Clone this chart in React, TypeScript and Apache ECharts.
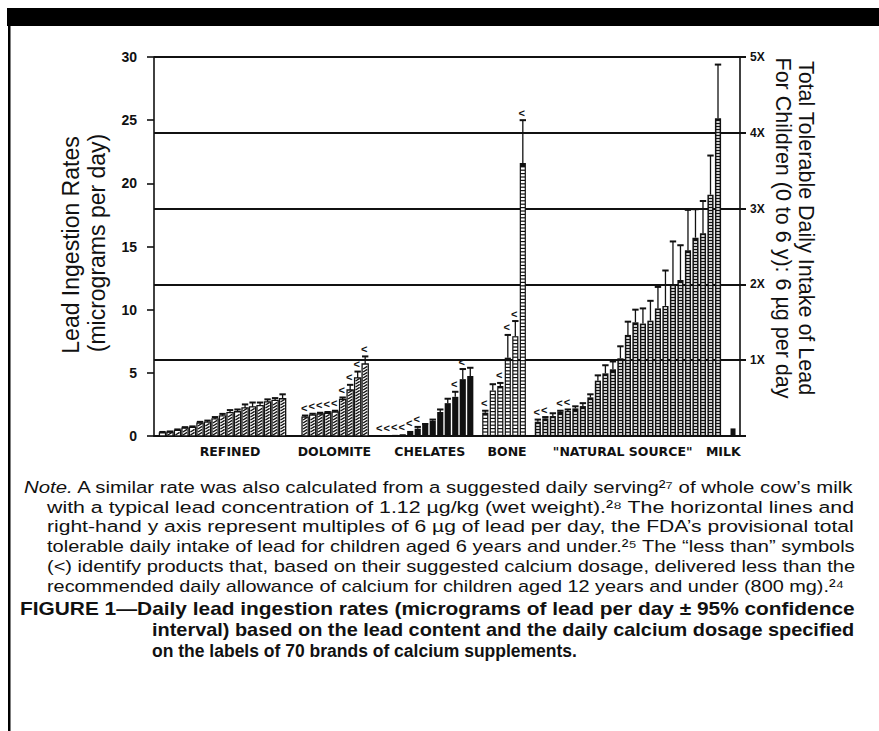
import React, { useEffect, useRef } from 'react';
import * as echarts from 'echarts';

// ---- data ----
const groupNames = ['REFINED', 'DOLOMITE', 'CHELATES', 'BONE', '"NATURAL SOURCE"', 'MILK'];
const groupStart = [0, 19, 29, 43, 50, 76];
const groupLabelPos = [9.0, 22.9, 35.6, 45.9, 61.3, 74.7];

const refinedValues = [0.25, 0.3, 0.45, 0.62, 0.68, 1.02, 1.1, 1.35, 1.6, 1.85, 1.92, 2.22, 2.3, 2.4, 2.7, 2.82, 2.95];
const refinedUpper = [0.32, 0.36, 0.52, 0.7, 0.76, 1.12, 1.22, 1.5, 1.75, 2.05, 2.1, 2.5, 2.65, 2.65, 2.9, 3.0, 3.3];
const refinedLess = [0, 0, 0, 0, 0, 0, 0, 0, 0, 0, 0, 0, 0, 0, 0, 0, 0];

const dolomiteValues = [1.5, 1.66, 1.74, 1.8, 1.9, 2.9, 3.64, 4.6, 5.7];
const dolomiteUpper = [1.62, 1.76, 1.84, 1.9, 2.0, 3.05, 4.05, 5.1, 6.3];
const dolomiteLess = [1, 1, 1, 1, 1, 1, 1, 1, 1];

const chelatesValues = [0.04, 0.06, 0.09, 0.14, 0.4, 0.58, 0.87, 1.2, 1.9, 2.6, 3.1, 4.5, 4.75];
const chelatesUpper = [0.04, 0.06, 0.09, 0.14, 0.4, 0.72, 0.95, 1.3, 2.1, 2.95, 3.5, 5.3, 5.4];
const chelatesLess = [1, 1, 1, 1, 1, 1, 0, 0, 0, 0, 1, 1, 0];

const boneValues = [1.85, 3.6, 3.96, 6.2, 7.9, 21.6];
const boneUpper = [2.0, 4.1, 4.2, 8.0, 9.1, 25.0];
const boneLess = [1, 0, 1, 1, 1, 1];

const naturalValues = [1.13, 1.4, 1.58, 1.93, 1.98, 2.19, 2.37, 3.06, 4.38, 4.96, 5.28, 6.15, 8.0, 9.0, 8.9, 9.13, 10.1, 10.3, 11.96, 12.35, 14.7, 15.7, 16.05, 19.1, 25.15];
const naturalUpper = [1.3, 1.5, 1.8, 2.0, 2.1, 2.35, 2.6, 3.3, 4.8, 5.6, 5.9, 7.1, 9.05, 10.0, 10.1, 10.7, 11.8, 13.1, 15.4, 15.1, 17.9, 17.95, 18.6, 22.2, 29.4];
const naturalLess = [1, 1, 0, 1, 1, 0, 0, 0, 0, 0, 0, 0, 0, 0, 0, 0, 0, 0, 0, 0, 0, 0, 0, 0, 0];

const milkValues = [0.6];
const milkUpper = [0.6];
const milkLess = [0];

const leftAxisTicks = [0, 5, 10, 15, 20, 25, 30];
const rightAxisLabels = ['1X', '2X', '3X', '4X', '5X'];

const noteLead = 'Note.';
const noteLines = [
  ' A similar rate was also calculated from a suggested daily serving²⁷ of whole cow’s milk',
  'with a typical lead concentration of 1.12 µg/kg (wet weight).²⁸ The horizontal lines and',
  'right-hand y axis represent multiples of 6 µg of lead per day, the FDA’s provisional total',
  'tolerable daily intake of lead for children aged 6 years and under.²⁵ The “less than” symbols',
  '(<) identify products that, based on their suggested calcium dosage, delivered less than the',
  'recommended daily allowance of calcium for children aged 12 years and under (800 mg).²⁴',
];
const captionLines = [
  'FIGURE 1—Daily lead ingestion rates (micrograms of lead per day ± 95% confidence',
  'interval) based on the lead content and the daily calcium dosage specified',
  'on the labels of 70 brands of calcium supplements.',
];

// layout: line start x and target widths (justified block); 0 = natural width
const noteX = [24, 47, 47, 47, 47, 47];
const noteWidth = [831, 808, 808, 808, 808, 798];
const captionX = [20, 152, 152];
const captionWidth = [835, 703, 0];

const groups = [
  [refinedValues, refinedUpper, refinedLess],
  [dolomiteValues, dolomiteUpper, dolomiteLess],
  [chelatesValues, chelatesUpper, chelatesLess],
  [boneValues, boneUpper, boneLess],
  [naturalValues, naturalUpper, naturalLess],
  [milkValues, milkUpper, milkLess],
];

const barData: number[][] = [];
groups.forEach((grp, g) => {
  grp[0].forEach((v, i) => {
    barData.push([groupStart[g] + i, v, grp[1][i], grp[2][i], g]);
  });
});

const INK = '#111';

function renderBar(_params: any, api: any) {
  const pos = api.value(0);
  const v = api.value(1);
  const up = api.value(2);
  const less = api.value(3);
  const g = api.value(4);
  const base = api.coord([pos, 0]);
  const top = api.coord([pos, v]);
  const cap = api.coord([pos, up]);
  const w = g === 5 ? 5 : api.size([0.82, 0])[0];
  const left = base[0] - w / 2;
  const h = Math.max(base[1] - top[1], 0.8);
  const y0 = base[1] - h;
  const ch: any[] = [];
  if (g <= 1) {
    ch.push({ type: 'rect', shape: { x: left, y: y0, width: w, height: h }, style: { fill: '#fff', stroke: INK, lineWidth: 1.3 } });
    for (let yy = base[1] - 1.0; yy - 2.6 > y0; yy -= 3.0) {
      ch.push({
        type: 'line',
        shape: { x1: left + 1, y1: yy, x2: left + w - 1, y2: yy - 2.6 },
        style: { stroke: INK, lineWidth: 1.4 },
      });
    }
  } else {
    ch.push({ type: 'rect', shape: { x: left, y: y0, width: w, height: h }, style: { fill: INK } });
    if (g === 3 || g === 4) {
      const iw = g === 3 ? w - 2.4 : w - 3;
      const ih = g === 3 ? 2.2 : 1.6;
      const step = g === 3 ? 3.4 : 3.0;
      for (let yy = base[1] - 1.2 - ih; yy > y0 + 1; yy -= step) {
        ch.push({ type: 'rect', shape: { x: base[0] - iw / 2, y: yy, width: iw, height: ih }, style: { fill: '#fff' } });
      }
    }
  }
  if (up > v + 1e-6) {
    ch.push({ type: 'line', shape: { x1: base[0], y1: top[1], x2: base[0], y2: cap[1] }, style: { stroke: INK, lineWidth: 1.3 } });
    ch.push({ type: 'line', shape: { x1: base[0] - 3.2, y1: cap[1], x2: base[0] + 3.2, y2: cap[1] }, style: { stroke: INK, lineWidth: 2 } });
  }
  if (less) {
    ch.push({
      type: 'text',
      x: base[0] - 1,
      y: cap[1] - 2,
      style: { text: '<', font: 'bold 11px "Liberation Sans", Arial, sans-serif', textAlign: 'center', textVerticalAlign: 'bottom', fill: INK },
    });
  }
  return { type: 'group', children: ch };
}

function renderGroupLabel(_params: any, api: any) {
  const c = api.coord([api.value(0), 0]);
  return {
    type: 'text',
    x: c[0],
    y: c[1] + 15,
    style: {
      text: groupNames[api.value(1)],
      font: 'bold 12.5px "DejaVu Sans", sans-serif',
      textAlign: 'center',
      textVerticalAlign: 'middle',
      fill: INK,
    },
  };
}

const bodyFont = '"Liberation Sans", Arial, Helvetica, sans-serif';
const noteFont = `17px ${bodyFont}`;
const noteItalic = `italic 17px ${bodyFont}`;
const captionFont = `bold 17.5px ${bodyFont}`;

function buildTextGraphics() {
  const ctx = document.createElement('canvas').getContext('2d')!;
  const measure = (t: string, f: string) => {
    ctx.font = f;
    return ctx.measureText(t).width;
  };
  const out: any[] = [];
  noteLines.forEach((t, i) => {
    let natural = measure(t, noteFont);
    let text = t;
    let rich: any = undefined;
    if (i === 0) {
      natural += measure(noteLead, noteItalic);
      text = `{i|${noteLead}}${t}`;
      rich = { i: { fontStyle: 'italic', fontSize: 17, fontFamily: bodyFont } };
    }
    out.push({
      type: 'text',
      x: noteX[i],
      y: 487 + i * 19.8,
      scaleX: noteWidth[i] / natural,
      style: { text, font: noteFont, textVerticalAlign: 'middle', fill: INK, rich },
    });
  });
  captionLines.forEach((t, i) => {
    const natural = measure(t, captionFont);
    out.push({
      type: 'text',
      x: captionX[i],
      y: 609 + i * 21,
      scaleX: captionWidth[i] ? captionWidth[i] / natural : 1,
      style: { text: t, font: captionFont, textVerticalAlign: 'middle', fill: INK },
    });
  });
  return out;
}

function buildOption() {
  return {
    animation: false,
    backgroundColor: '#fff',
    textStyle: { fontFamily: bodyFont },
    grid: { left: 154, right: 139, top: 57, bottom: 295 },
    xAxis: {
      type: 'value',
      min: -1.13,
      max: 76.93,
      axisLine: { show: true, onZero: false, lineStyle: { color: INK, width: 2 } },
      axisTick: { show: false },
      axisLabel: { show: false },
      splitLine: { show: false },
    },
    yAxis: [
      {
        type: 'value',
        position: 'left',
        min: leftAxisTicks[0],
        max: leftAxisTicks[leftAxisTicks.length - 1],
        interval: 5,
        axisLine: { show: true, onZero: false, lineStyle: { color: INK, width: 1.6 } },
        axisTick: { show: true, inside: false, length: 7, lineStyle: { color: INK, width: 1.6 } },
        axisLabel: { margin: 17, fontSize: 14, fontWeight: 'bold', color: INK, fontFamily: bodyFont },
        splitLine: { show: false },
      },
      {
        type: 'value',
        position: 'right',
        min: 0,
        max: 30,
        interval: 6,
        axisLine: { show: true, onZero: false, lineStyle: { color: INK, width: 1.6 } },
        axisTick: { show: true, inside: false, length: 6, lineStyle: { color: INK, width: 2 } },
        axisLabel: {
          margin: 10,
          fontSize: 12,
          fontWeight: 'bold',
          color: INK,
          fontFamily: bodyFont,
          formatter: (val: number) => (val === 0 ? '' : rightAxisLabels[Math.round(val / 6) - 1]),
        },
        splitLine: { show: true, lineStyle: { color: INK, width: 2 } },
      },
    ],
    series: [
      {
        type: 'custom',
        renderItem: renderBar,
        data: barData,
        clip: false,
        encode: { x: 0, y: [1, 2] },
        z: 3,
      },
      {
        type: 'custom',
        renderItem: renderGroupLabel,
        data: groupLabelPos.map((p, i) => [p, i]),
        clip: false,
        encode: { x: 0 },
        z: 3,
      },
    ],
    graphic: [
      { type: 'rect', shape: { x: 7, y: 8, width: 872, height: 18 }, style: { fill: '#000' } },
      { type: 'rect', shape: { x: 8, y: 8, width: 2.5, height: 723 }, style: { fill: '#000' } },
      {
        type: 'text', x: 71, y: 245, rotation: Math.PI / 2,
        style: { text: 'Lead Ingestion Rates', font: `23px ${bodyFont}`, textAlign: 'center', textVerticalAlign: 'middle', fill: INK },
      },
      {
        type: 'text', x: 97, y: 243, rotation: Math.PI / 2,
        style: { text: '(micrograms per day)', font: `23px ${bodyFont}`, textAlign: 'center', textVerticalAlign: 'middle', fill: INK },
      },
      {
        type: 'text', x: 806, y: 228, rotation: -Math.PI / 2,
        style: { text: 'Total Tolerable Daily Intake of Lead', font: `21.5px ${bodyFont}`, textAlign: 'center', textVerticalAlign: 'middle', fill: INK },
      },
      {
        type: 'text', x: 783, y: 228, rotation: -Math.PI / 2,
        style: { text: 'For Children (0 to 6 y): 6 µg per day', font: `21.5px ${bodyFont}`, textAlign: 'center', textVerticalAlign: 'middle', fill: INK },
      },
      ...buildTextGraphics(),
    ],
  };
}

export default function App() {
  const ref = useRef<HTMLDivElement>(null);
  useEffect(() => {
    document.body.style.margin = '0';
    const chart = echarts.init(ref.current!, null, { renderer: 'svg' });
    chart.setOption(buildOption() as any);
    return () => chart.dispose();
  }, []);
  return <div ref={ref} style={{ width: 879, height: 731, background: '#fff' }} />;
}
